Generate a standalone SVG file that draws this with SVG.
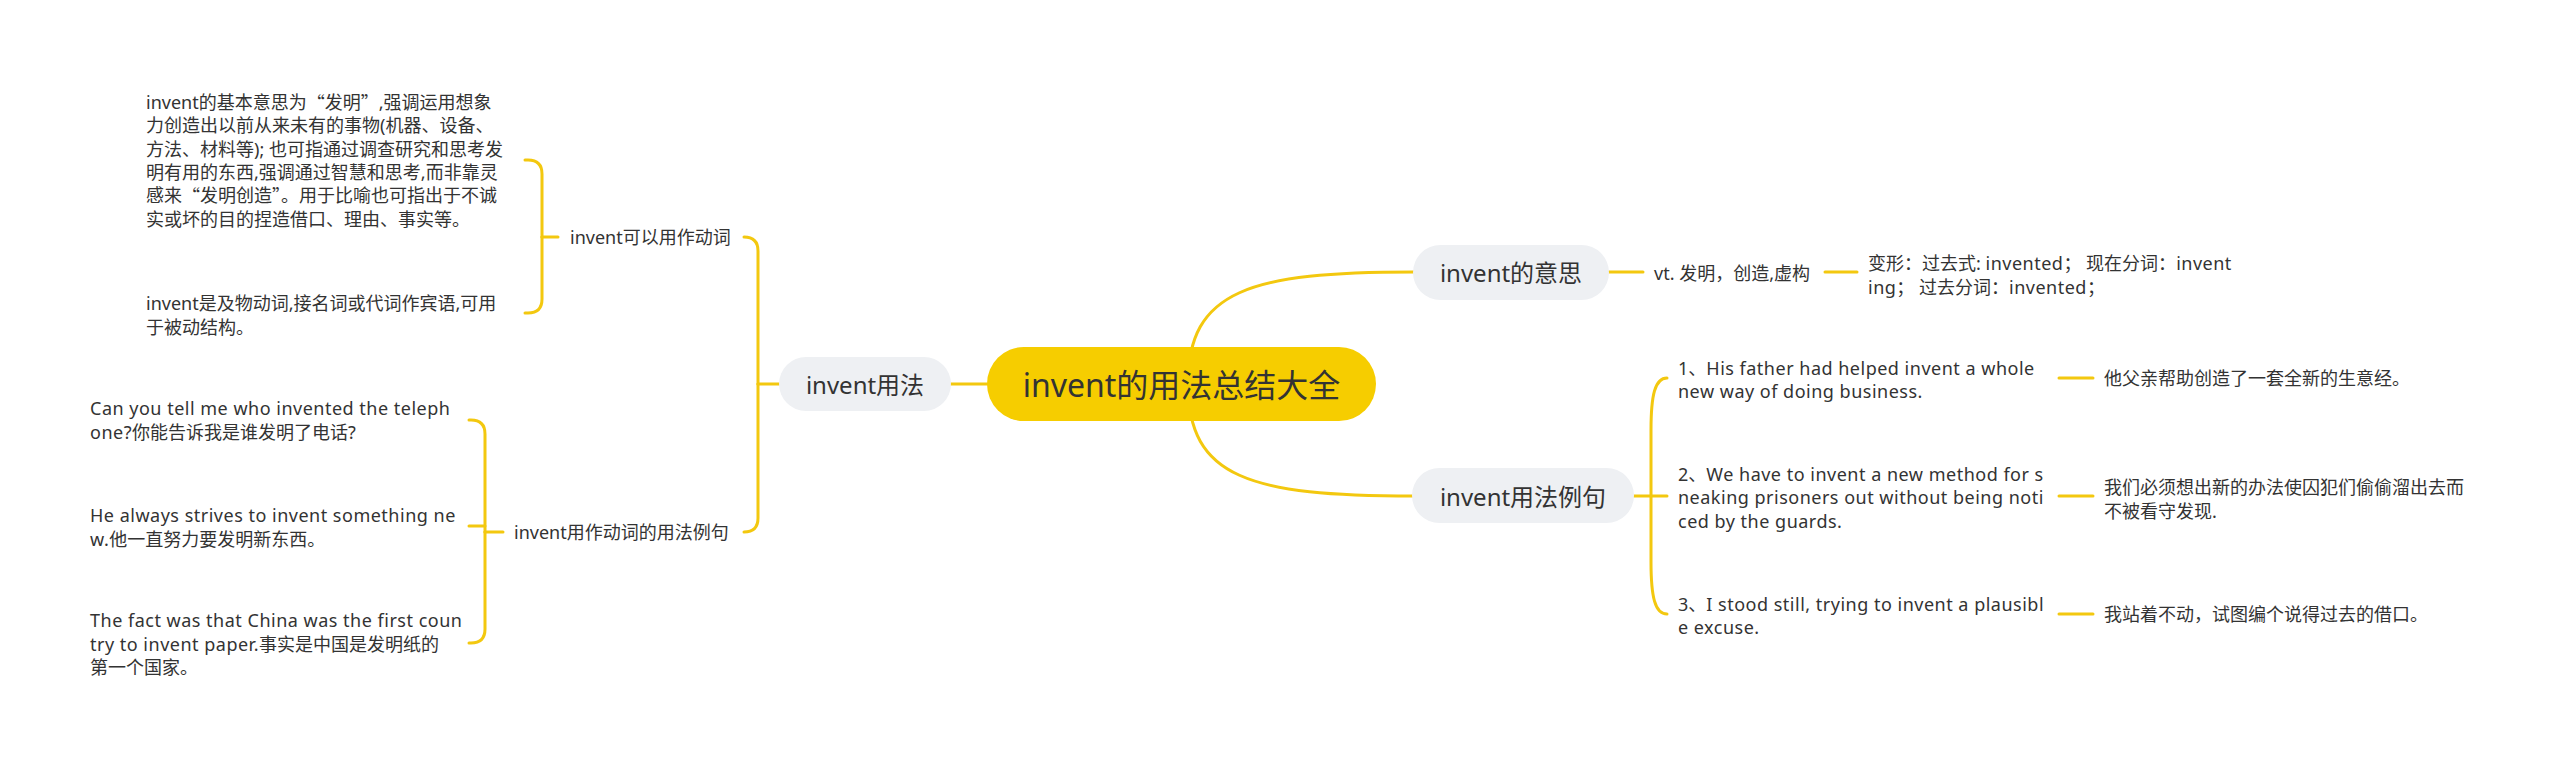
<svg xmlns="http://www.w3.org/2000/svg" width="2560" height="768" viewBox="0 0 2560 768">
<style>
text{font-family:"Noto Sans","Noto Sans CJK SC",sans-serif;fill:#333333;dominant-baseline:central}
.t18{font-size:18px}
.t24{font-size:24px;text-anchor:middle}
.t32{font-size:32px;text-anchor:middle}
.q{font-family:"Noto Sans CJK SC",sans-serif}
.en{letter-spacing:0.5px}
.lk{fill:none;stroke:#F3C80F;stroke-width:3;stroke-linecap:round}
.sub{fill:#EEF0F3}
.root{fill:#F6CD00}
</style>
<rect width="2560" height="768" fill="#FFFFFF"/>
<g id="connectors">
<path class="lk" d="M951 384 L987 384"/>
<path class="lk" d="M1188 384 C1188 290 1250 272 1414 272"/>
<path class="lk" d="M1188 384 C1188 478 1250 496 1414 496"/>
<path class="lk" d="M779 384 L758 384"/>
<path class="lk" d="M758 384 L758 251 Q758 237 744 237"/>
<path class="lk" d="M758 384 L758 518 Q758 532 744 532"/>
<path class="lk" d="M558 237 L542 237"/>
<path class="lk" d="M542 237 L542 174 Q542 160 528 160 L525 160"/>
<path class="lk" d="M542 237 L542 299 Q542 313 528 313 L525 313"/>
<path class="lk" d="M503 532 L485 532"/>
<path class="lk" d="M485 532 L485 434 Q485 420 471 420 L469 420"/>
<path class="lk" d="M485 526 L469 526"/>
<path class="lk" d="M485 532 L485 629 Q485 643 471 643 L469 643"/>
<path class="lk" d="M1609 272 L1643 272"/>
<path class="lk" d="M1825 272 L1857 272"/>
<path class="lk" d="M1634 496 L1667 496"/>
<path class="lk" d="M1651 496 L1651 430 C1651 395 1655 378 1667 378"/>
<path class="lk" d="M1651 496 L1651 562 C1651 597 1655 614 1667 614"/>
<path class="lk" d="M2059 378 L2093 378"/>
<path class="lk" d="M2059 496 L2093 496"/>
<path class="lk" d="M2059 614 L2093 614"/>
</g>
<g id="root">
<rect class="root" x="987" y="347" width="389" height="74" rx="37"/>
<text class="t32" x="1181.5" y="384">invent的用法总结大全</text>
</g>
<g id="n-usage">
<rect class="sub" x="779" y="357" width="172" height="54" rx="27"/>
<text class="t24" x="865" y="384">invent用法</text>
</g>
<g id="n-meaning">
<rect class="sub" x="1413" y="245" width="196" height="55" rx="27.5"/>
<text class="t24" x="1511" y="272">invent的意思</text>
</g>
<g id="n-examples">
<rect class="sub" x="1412" y="468" width="222" height="55" rx="27.5"/>
<text class="t24" x="1523" y="496">invent用法例句</text>
</g>
<g id="n-verb">
<text class="t18" x="570" y="237">invent可以用作动词</text>
</g>
<g id="n-verb-detail1">
<text class="t18" x="146" y="102">invent的基本意思为<tspan class="q">“</tspan>发明<tspan class="q">”</tspan>,强调运用想象<tspan x="146" dy="23.3">力创造出以前从来未有的事物(机器、设备、</tspan><tspan x="146" dy="23.3">方法、材料等); 也可指通过调查研究和思考发</tspan><tspan x="146" dy="23.3">明有用的东西,强调通过智慧和思考,而非靠灵</tspan><tspan x="146" dy="23.3">感来<tspan class="q">“</tspan>发明创造<tspan class="q">”</tspan>。用于比喻也可指出于不诚</tspan><tspan x="146" dy="23.3">实或坏的目的捏造借口、理由、事实等。</tspan></text>
</g>
<g id="n-verb-detail2">
<text class="t18" x="146" y="303">invent是及物动词,接名词或代词作宾语,可用<tspan x="146" dy="23.5">于被动结构。</tspan></text>
</g>
<g id="n-verb-examples">
<text class="t18" x="514" y="532">invent用作动词的用法例句</text>
</g>
<g id="n-ex-left1">
<text class="t18" x="90" y="408"><tspan class="en">Can you tell me who invented the teleph</tspan><tspan x="90" dy="23.5"><tspan class="en">one?</tspan>你能告诉我是谁发明了电话?</tspan></text>
</g>
<g id="n-ex-left2">
<text class="t18" x="90" y="515"><tspan class="en">He always strives to invent something ne</tspan><tspan x="90" dy="23.5"><tspan class="en">w.</tspan>他一直努力要发明新东西。</tspan></text>
</g>
<g id="n-ex-left3">
<text class="t18" x="90" y="620"><tspan class="en">The fact was that China was the first coun</tspan><tspan x="90" dy="23.5"><tspan class="en">try to invent paper.</tspan>事实是中国是发明纸的</tspan><tspan x="90" dy="23.5">第一个国家。</tspan></text>
</g>
<g id="n-vt">
<text class="t18" x="1654" y="273">vt. 发明，创造,虚构</text>
</g>
<g id="n-forms">
<text class="t18" x="1868" y="263">变形：过去式: <tspan class="en">invented</tspan>；  现在分词：<tspan class="en">invent</tspan><tspan x="1868" dy="23.5"><tspan class="en">ing</tspan>；  过去分词：<tspan class="en">invented</tspan>；</tspan></text>
</g>
<g id="n-ex1">
<text class="t18" x="1678" y="367.5">1、<tspan class="en">His father had helped invent a whole</tspan><tspan x="1678" dy="23.5" class="en">new way of doing business.</tspan></text>
</g>
<g id="n-ex2">
<text class="t18" x="1678" y="473.5">2、<tspan class="en">We have to invent a new method for s</tspan><tspan x="1678" dy="23.5" class="en">neaking prisoners out without being noti</tspan><tspan x="1678" dy="23.5" class="en">ced by the guards.</tspan></text>
</g>
<g id="n-ex3">
<text class="t18" x="1678" y="603.5">3、<tspan class="en">I stood still, trying to invent a plausibl</tspan><tspan x="1678" dy="23.5" class="en">e excuse.</tspan></text>
</g>
<g id="n-tr1">
<text class="t18" x="2104" y="378">他父亲帮助创造了一套全新的生意经。</text>
</g>
<g id="n-tr2">
<text class="t18" x="2104" y="487">我们必须想出新的办法使囚犯们偷偷溜出去而<tspan x="2104" dy="23.5">不被看守发现.</tspan></text>
</g>
<g id="n-tr3">
<text class="t18" x="2104" y="614">我站着不动，试图编个说得过去的借口。</text>
</g>
</svg>
